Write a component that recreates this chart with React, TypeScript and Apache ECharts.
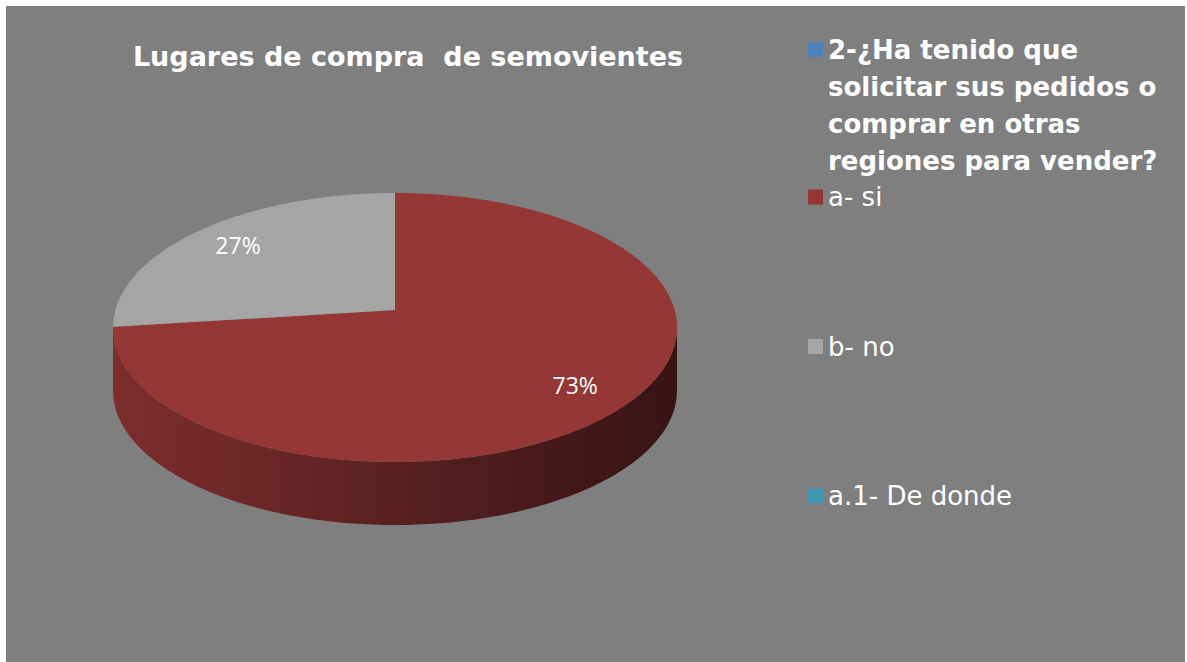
import React, { useEffect, useRef } from "react";
import * as echarts from "echarts";

// ---- data ----
const titleText = "Lugares de compra  de semovientes";
const questionLines = [
  "2-¿Ha tenido que",
  "solicitar sus pedidos o",
  "comprar en otras",
  "regiones para vender?",
];
const legendNames = [questionLines.join(" "), "a- si", "b- no", "a.1- De donde"];
const sliceNames = ["a- si", "b- no"];
const sliceValues = [73, 27];

// ---- styles / geometry ----
const seriesColors = ["#4f81bd", "#953735", "#a5a5a5", "#4198af"];
const CX = 389;
const CY = 321.5;
const RX = 282;
const RY = 134.5;
const DEPTH = 63;
const PERSP = 0.13;
const LABEL_R = 0.8;
const legendTops = [-86, 178, 327.5, 477];

function project(theta: number, f = 1): number[] {
  const u = Math.sin(theta) * f;
  const v = Math.cos(theta) * f;
  const d = 1 + PERSP * v;
  const up = (u * Math.sqrt(1 - PERSP * PERSP)) / d;
  const vp = (v + PERSP) / d;
  return [CX + RX * up, CY - RY * vp];
}

function shade(hex: string, k: number): string {
  const h = hex.replace("#", "");
  const r = Math.round(parseInt(h.slice(0, 2), 16) * k);
  const g = Math.round(parseInt(h.slice(2, 4), 16) * k);
  const b = Math.round(parseInt(h.slice(4, 6), 16) * k);
  return `rgb(${r},${g},${b})`;
}

function makeRender(sliceIdx: number, color: string) {
  return (params: any, api: any) => {
    const total = sliceValues.reduce((a, b) => a + b, 0);
    let before = 0;
    for (let i = 0; i < sliceIdx; i++) before += sliceValues[i];
    const value = api.value(0);
    const start = (before / total) * Math.PI * 2;
    const end = start + (value / total) * Math.PI * 2;
    const children: any[] = [];

    // side wall (front part only)
    const fa = Math.acos(-PERSP);
    const fb = Math.PI * 2 - fa;
    const a = Math.max(start, fa);
    const b = Math.min(end, fb);
    if (b > a) {
      const n = Math.max(2, Math.ceil((b - a) / (Math.PI / 180)));
      const topArc: number[][] = [];
      for (let i = 0; i <= n; i++) topArc.push(project(a + ((b - a) * i) / n));
      const bottomArc = topArc.map((p) => [p[0], p[1] + DEPTH]).reverse();
      children.push({
        type: "polygon",
        z2: 1,
        shape: { points: topArc.concat(bottomArc) },
        style: {
          fill: new echarts.graphic.LinearGradient(0, 0, 1, 0, [
            { offset: 0, color: shade(color, 0.84) },
            { offset: 0.5, color: shade(color, 0.6) },
            { offset: 1, color: shade(color, 0.37) },
          ]),
        },
      });
    }

    // top face
    const n2 = Math.max(2, Math.ceil((end - start) / (Math.PI / 180)));
    const pts: number[][] = [[CX, CY - RY * PERSP]];
    for (let i = 0; i <= n2; i++) pts.push(project(start + ((end - start) * i) / n2));
    children.push({
      type: "polygon",
      z2: 2,
      shape: { points: pts },
      style: { fill: color },
    });

    // label
    const mid = (start + end) / 2;
    const lp = project(mid, LABEL_R);
    children.push({
      type: "text",
      z2: 3,
      style: {
        text: Math.round((value / total) * 100) + "%",
        x: lp[0],
        y: lp[1],
        align: "center",
        verticalAlign: "middle",
        fill: "#ffffff",
        fontFamily: "Open Sans",
        fontSize: 23,
      },
    });
    return { type: "group", children };
  };
}

export default function App() {
  const ref = useRef<HTMLDivElement>(null);
  useEffect(() => {
    if (!ref.current) return;
    const chart = echarts.init(ref.current, null, { renderer: "svg" });
    const series = legendNames.map((name, k) => {
      const idx = sliceNames.indexOf(name);
      return {
        type: "custom",
        name,
        coordinateSystem: "none",
        silent: true,
        itemStyle: { color: seriesColors[k] },
        data: idx >= 0 ? [sliceValues[idx]] : [],
        renderItem: makeRender(Math.max(idx, 0), seriesColors[k]),
      };
    });
    // leading blank lines keep the first line of the wrapped legend text level with its icon
    const blankLead = questionLines.slice(1).map(() => "").join("\n") + "\n";
    chart.setOption({
      animation: false,
      backgroundColor: "#7f7f7f",
      title: {
        text: titleText,
        left: 402,
        top: 33,
        padding: 0,
        textAlign: "center",
        textStyle: {
          color: "#ffffff",
          fontFamily: "DejaVu Sans",
          fontWeight: "bold",
          fontSize: 27,
          lineHeight: 34,
        },
      },
      legend: legendNames.map((name, k) => ({
        data: [{ name, itemStyle: { color: seriesColors[k] } }],
        orient: "vertical",
        left: 802,
        top: legendTops[k],
        padding: 0,
        icon: "rect",
        itemWidth: 15,
        itemHeight: 15,
        selectedMode: false,
        formatter: (n: string) =>
          n === legendNames[0] ? blankLead + questionLines.join("\n") : n,
        textStyle:
          k === 0
            ? {
                color: "#ffffff",
                fontFamily: "DejaVu Sans",
                fontWeight: "bold",
                fontSize: 26,
                lineHeight: 37,
              }
            : {
                color: "#ffffff",
                fontFamily: "DejaVu Sans",
                fontSize: 26,
                lineHeight: 26,
              },
      })),
      series,
    } as any);
    return () => chart.dispose();
  }, []);
  return (
    <div style={{ position: "fixed", left: 0, top: 0, width: 1187, height: 662, background: "#ffffff" }}>
      <div ref={ref} style={{ position: "absolute", left: 6, top: 6, width: 1179, height: 656 }} />
    </div>
  );
}
